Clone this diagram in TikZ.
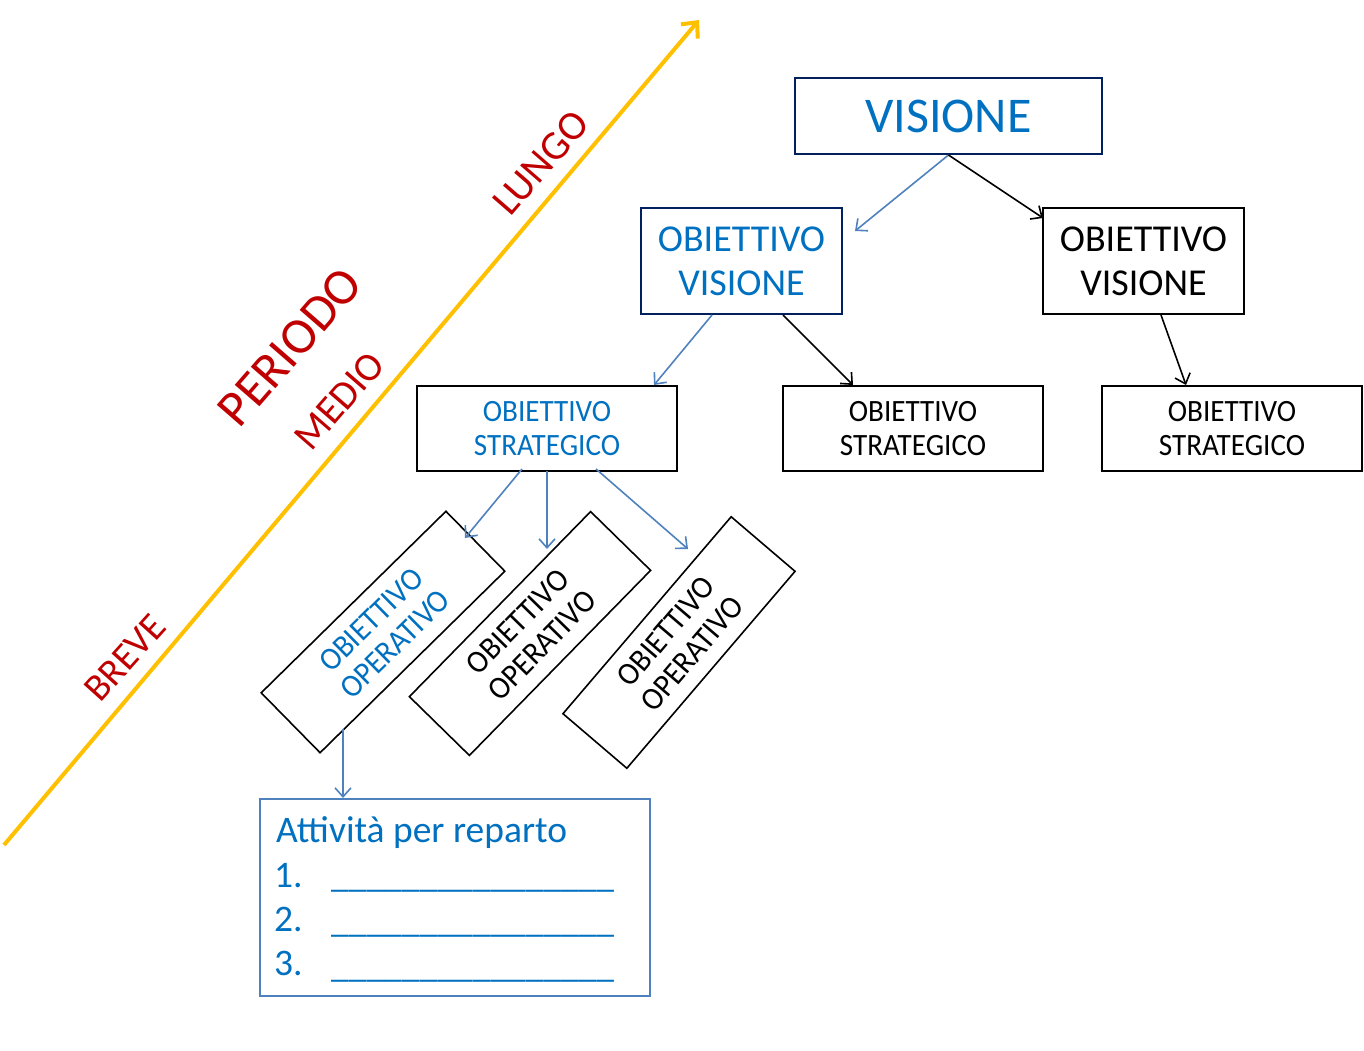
\documentclass[tikz,border=0pt]{standalone}
\usepackage{fontspec}
\setmainfont{Carlito}
\newfontfamily\condB{Carlito}[FakeStretch=0.94]
\usetikzlibrary{arrows.meta,calc}
\definecolor{txtblue}{HTML}{0070C0}
\definecolor{navy}{HTML}{002060}
\definecolor{lineblue}{HTML}{4F81BD}
\definecolor{darkred}{HTML}{C00000}
\definecolor{gold}{HTML}{FFC000}
\begin{document}
\begin{tikzpicture}[x=1pt,y=-1pt,
  boxbase/.style={draw, inner sep=0pt, align=center},
  bigbox/.style={boxbase, line width=2pt, font=\fontsize{38}{44.3}\selectfont},
  smallbox/.style={boxbase, line width=1.8pt, minimum width=260pt, minimum height=85pt, font=\condB\fontsize{31}{34}\selectfont},
  opbox/.style={boxbase, line width=1.6pt, minimum width=259pt, minimum height=84pt, font=\condB\fontsize{32}{34}\selectfont},
  period/.style={text=darkred, inner sep=0pt, font=\fontsize{41}{41}\selectfont},
  barrow/.style={line width=1.6pt, -{Straight Barb[length=9pt,width=16pt]}},
  blarrow/.style={barrow, draw=lineblue},
  actfont/.style={text=txtblue, inner sep=0pt, anchor=base west, font=\fontsize{37.5}{44}\selectfont}
]
\useasboundingbox (0,0) rectangle (1364,1050);
% time axis
\coordinate (axs) at (4,845);
\coordinate (axe) at (699,20);
\draw[gold, line width=4pt, -{Straight Barb[length=12pt,width=22pt]}] (axs) -- (axe);
\node[period, rotate=49] (lungo) at (541,163) {LUNGO};
\node[period, rotate=49, font=\fontsize{51}{51}\selectfont] (periodo) at (290,347) {PERIODO};
\node[period, rotate=49, font=\fontsize{40}{40}\selectfont] (medio) at (339,401) {MEDIO};
\node[period, rotate=48, font=\fontsize{38.5}{38.5}\selectfont] (breve) at (125,658) {BREVE};
% boxes
\node[boxbase, draw=navy, line width=2pt, minimum width=307pt, minimum height=76pt, text=txtblue, font=\fontsize{50}{50}\selectfont] (vis) at (948.5,116) {VISIONE};
\node[bigbox, draw=navy, text=txtblue, minimum width=201pt, minimum height=106pt] (ova) at (741.5,261) {OBIETTIVO\\VISIONE};
\node[bigbox, minimum width=201pt, minimum height=106pt] (ovb) at (1143.5,261) {OBIETTIVO\\VISIONE};
\node[smallbox, text=txtblue] (osa) at (547,428.5) {OBIETTIVO\\STRATEGICO};
\node[smallbox] (osb) at (913,428.5) {OBIETTIVO\\STRATEGICO};
\node[smallbox] (osc) at (1232,428.5) {OBIETTIVO\\STRATEGICO};
\node[opbox, rotate=44.5, text=txtblue] (ooa) at (383,632) {OBIETTIVO\\OPERATIVO};
\node[opbox, rotate=45.6] (oob) at (530,633.5) {OBIETTIVO\\OPERATIVO};
\node[opbox, rotate=49.5] (ooc) at (679,642.5) {OBIETTIVO\\OPERATIVO};
\node[draw=lineblue, line width=2pt, minimum width=390pt, minimum height=197pt, inner sep=0pt] (act) at (455,897.5) {};
\node[actfont] (acttitle) at (276,842) {Attività per reparto};
\node[actfont] (n1) at (274,887) {1.};
\node[actfont] (n2) at (274,931) {2.};
\node[actfont] (n3) at (274,975) {3.};
\node[actfont, font=\fontsize{35.5}{44}\selectfont] (u1) at (331,887) {\_\_\_\_\_\_\_\_\_\_\_\_\_\_\_\_};
\node[actfont, font=\fontsize{35.5}{44}\selectfont] (u2) at (331,932) {\_\_\_\_\_\_\_\_\_\_\_\_\_\_\_\_};
\node[actfont, font=\fontsize{35.5}{44}\selectfont] (u3) at (331,977) {\_\_\_\_\_\_\_\_\_\_\_\_\_\_\_\_};
% connector end points
\coordinate (visb) at (vis.south);
\coordinate (e1) at (855,231);
\coordinate (e2) at (1043,218);
\coordinate (s3) at (712,315);
\coordinate (e3) at (654,385);
\coordinate (s4) at (783,315);
\coordinate (e4) at (853,385);
\coordinate (s5) at (1161,315);
\coordinate (e5) at (1186,385);
\coordinate (s6) at (522,469);
\coordinate (e6) at (465,538);
\coordinate (s7) at (547,471);
\coordinate (e7) at (547,549);
\coordinate (s8) at (596,469);
\coordinate (e8) at (688,549);
\coordinate (s9) at (343,729);
\coordinate (e9) at (343,798);
% connectors
\draw[blarrow] (visb) -- (e1);
\draw[barrow] (visb) -- (e2);
\draw[blarrow] (s3) -- (e3);
\draw[barrow] (s4) -- (e4);
\draw[barrow] (s5) -- (e5);
\draw[blarrow] (s6) -- (e6);
\draw[blarrow] (s7) -- (e7);
\draw[blarrow] (s8) -- (e8);
\draw[blarrow] (s9) -- (e9);
\end{tikzpicture}
\end{document}
